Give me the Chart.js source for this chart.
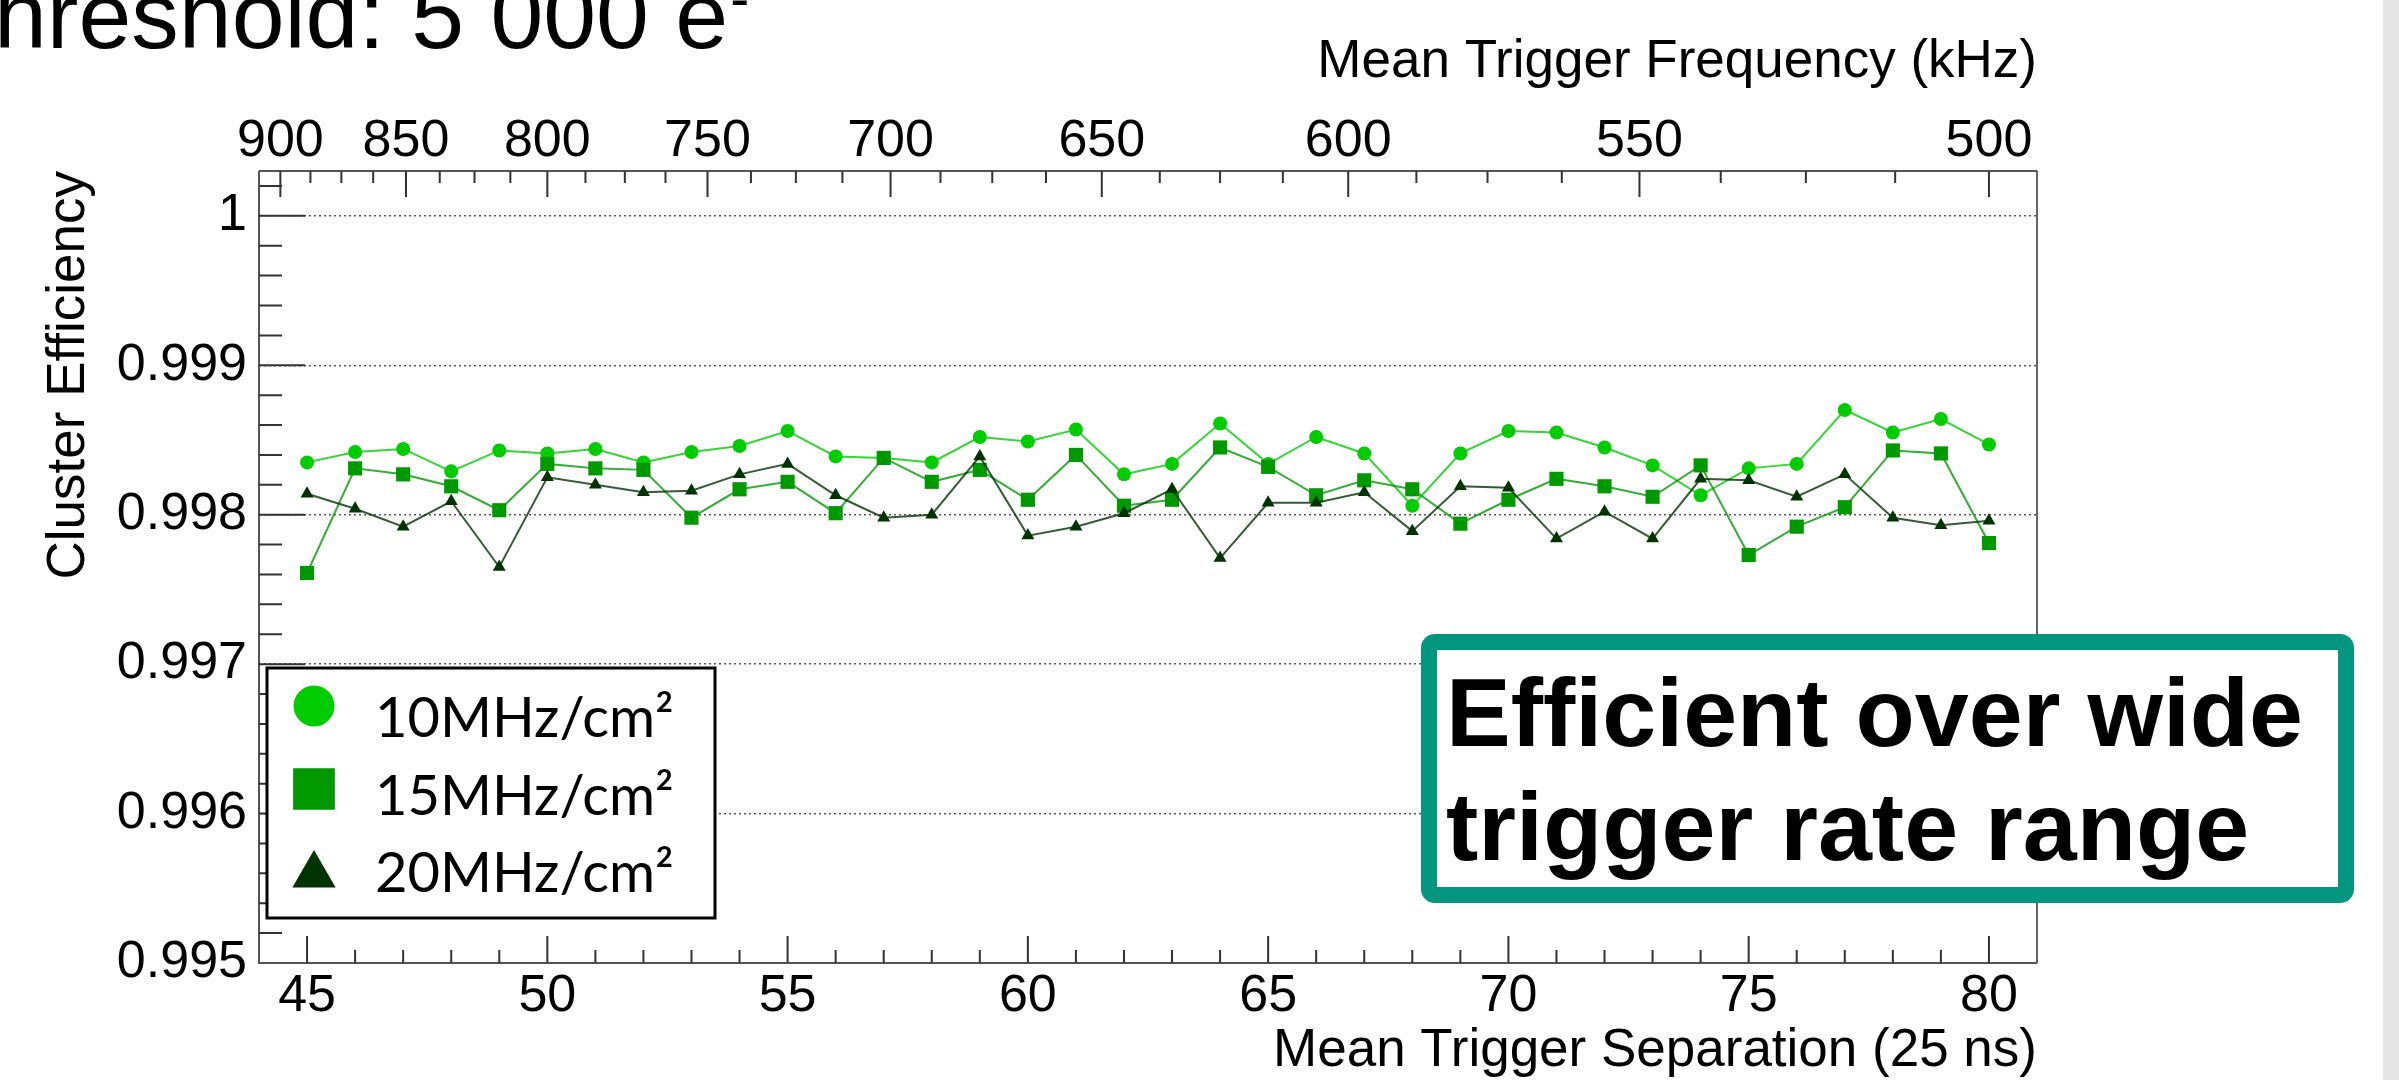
<!DOCTYPE html>
<html>
<head>
<meta charset="utf-8">
<title>Cluster efficiency vs trigger separation</title>
<script src="https://cdn.jsdelivr.net/npm/chart.js@4.4.0/dist/chart.umd.min.js"></script>
<style>
  html, body { margin: 0; padding: 0; background: #fff; }
  #wrap { width: 2399px; height: 1080px; position: relative; }
</style>
</head>
<body>
<div id="wrap"><canvas id="effChart" width="2399" height="1080"></canvas></div>
<script>
// mean trigger separation, in units of 25 ns
const separation = [45, 46, 47, 48, 49, 50, 51, 52, 53, 54, 55, 56, 57, 58, 59, 60, 61, 62,
  63, 64, 65, 66, 67, 68, 69, 70, 71, 72, 73, 74, 75, 76, 77, 78, 79, 80];

// cluster efficiency per hit rate
const eff10 = [0.99835, 0.99842, 0.99844, 0.99829, 0.99843, 0.99841, 0.99844, 0.99835, 0.99842,
  0.99846, 0.99856, 0.99839, 0.99838, 0.99835, 0.99852, 0.99849, 0.99857, 0.99827,
  0.99834, 0.99861, 0.99834, 0.99852, 0.99841, 0.99806, 0.99841, 0.99856, 0.99855,
  0.99845, 0.99833, 0.99813, 0.99831, 0.99834, 0.99870, 0.99855, 0.99864, 0.99847];
const eff15 = [0.99761, 0.99831, 0.99827, 0.99819, 0.99803, 0.99834, 0.99831, 0.99830, 0.99798,
  0.99817, 0.99822, 0.99801, 0.99838, 0.99822, 0.99830, 0.99810, 0.99840, 0.99806,
  0.99810, 0.99845, 0.99832, 0.99813, 0.99823, 0.99817, 0.99794, 0.99810, 0.99824,
  0.99819, 0.99812, 0.99833, 0.99773, 0.99792, 0.99805, 0.99843, 0.99841, 0.99781];
const eff20 = [0.99814, 0.99804, 0.99792, 0.99809, 0.99765, 0.99825, 0.99820, 0.99815, 0.99816,
  0.99827, 0.99834, 0.99813, 0.99798, 0.99800, 0.99839, 0.99786, 0.99792, 0.99801,
  0.99817, 0.99771, 0.99808, 0.99808, 0.99815, 0.99789, 0.99819, 0.99818, 0.99784,
  0.99802, 0.99784, 0.99824, 0.99823, 0.99812, 0.99827, 0.99798, 0.99793, 0.99796];

const seriesLabels = ["10MHz/cm\u00B2", "15MHz/cm\u00B2", "20MHz/cm\u00B2"];

// tick labels
const sepTicks = [45, 50, 55, 60, 65, 70, 75, 80];
const effTicks = [0.995, 0.996, 0.997, 0.998, 0.999, 1];
const effTickLabels = ["0.995", "0.996", "0.997", "0.998", "0.999", "1"];
const freqTicks = [900, 850, 800, 750, 700, 650, 600, 550, 500]; // kHz

// separation (x 25 ns) <-> frequency (kHz)
const toSep = (f) => 40000 / f;

const pts = (ys) => separation.map((s, i) => ({ x: s, y: ys[i] }));

Chart.defaults.font.family = "'Liberation Sans', Arial, sans-serif";
Chart.defaults.color = "#000";

const rootStyle = {
  id: "rootStyle",
  beforeDatasetsDraw(chart) {
    const { ctx, chartArea: a, scales } = chart;
    ctx.save();
    // frame
    ctx.strokeStyle = "#555";
    ctx.lineWidth = 2;
    ctx.beginPath();
    ctx.moveTo(a.left, a.top);
    ctx.lineTo(a.left, a.bottom);
    ctx.lineTo(a.right, a.bottom);
    ctx.moveTo(a.left, a.top);
    ctx.lineTo(a.right, a.top);
    ctx.stroke();
    ctx.strokeStyle = "#333";
    ctx.lineWidth = 1.5;
    ctx.beginPath();
    ctx.moveTo(a.right, a.top);
    ctx.lineTo(a.right, a.bottom);
    ctx.stroke();

    // inward ticks
    ctx.strokeStyle = "#333";
    ctx.lineWidth = 2;
    ctx.beginPath();
    for (let v = 45; v <= 80; v++) {
      const px = scales.x.getPixelForValue(v);
      const len = v % 5 === 0 ? 27 : 13;
      ctx.moveTo(px, a.bottom);
      ctx.lineTo(px, a.bottom - len);
    }
    for (let k = 1; k <= 26; k++) {
      const py = scales.y.getPixelForValue(0.995 + k * 0.0002);
      const len = k % 5 === 0 ? 46 : 23;
      ctx.moveTo(a.left, py);
      ctx.lineTo(a.left + len, py);
    }
    for (let f = 900; f >= 500; f -= 12.5) {
      const px = scales.x2.getPixelForValue(toSep(f));
      const len = f % 50 === 0 ? 26 : 12;
      ctx.moveTo(px, a.top);
      ctx.lineTo(px, a.top + len);
    }
    ctx.stroke();
    ctx.restore();
  },
  afterDraw(chart) {
    const { ctx } = chart;
    ctx.save();

    // legend box
    ctx.fillStyle = "#fff";
    ctx.fillRect(267, 668, 448, 250);
    ctx.strokeStyle = "#000";
    ctx.lineWidth = 3;
    ctx.strokeRect(267, 668, 448, 250);
    const legendY = [706, 789, 870];
    const legendR = [20.5, 29.5, 25];
    const legendOff = [0, 0, 5];
    const baseY = [737, 815, 892];
    chart.data.datasets.forEach((ds, i) => {
      ctx.fillStyle = ds.pointBackgroundColor;
      Chart.helpers.drawPoint(ctx, { pointStyle: ds.pointStyle, radius: legendR[i], rotation: 0, borderWidth: 0 },
        314, legendY[i] + legendOff[i]);
      ctx.fillStyle = "#000";
      ctx.font = "56px Lato, 'Open Sans', sans-serif";
      ctx.textAlign = "left";
      ctx.textBaseline = "alphabetic";
      ctx.fillText(ds.label, 375, baseY[i]);
    });

    // highlight box
    ctx.fillStyle = "#fff";
    ctx.strokeStyle = "#03967f";
    ctx.lineWidth = 16;
    ctx.beginPath();
    ctx.roundRect(1429, 642, 917, 253, 6);
    ctx.fill();
    ctx.stroke();
    ctx.fillStyle = "#000";
    ctx.font = "bold 97px 'Liberation Sans', Arial, sans-serif";
    ctx.fillText("Efficient over wide", 1446, 746);
    ctx.fillText("trigger rate range", 1446, 860);

    // slide title, cut at the top-left edge of the picture
    ctx.font = "95px 'Liberation Sans', Arial, sans-serif";
    const title = "Threshold: 5 000 e";
    const x0 = -ctx.measureText("T").width - 6;
    ctx.fillText(title, x0, 48);
    const tEnd = x0 + ctx.measureText(title).width;
    ctx.font = "57px 'Liberation Sans', Arial, sans-serif";
    ctx.fillText("-", tEnd + 2, 18);

    // slide edge
    ctx.fillStyle = "#e6e6e6";
    ctx.fillRect(2383, 0, 16, 1080);
    ctx.restore();
  }
};

new Chart(document.getElementById("effChart"), {
  type: "scatter",
  data: {
    datasets: [
      {
        label: seriesLabels[0],
        data: pts(eff10),
        showLine: true,
        borderColor: "rgba(0,204,0,0.8)",
        borderWidth: 2,
        pointStyle: "circle",
        pointRadius: 7,
        pointBackgroundColor: "#00cc00",
        pointBorderWidth: 0,
        order: 2
      },
      {
        label: seriesLabels[1],
        data: pts(eff15),
        showLine: true,
        borderColor: "rgba(0,153,0,0.8)",
        borderWidth: 2,
        pointStyle: "rect",
        pointRadius: 10,
        pointBackgroundColor: "#009900",
        pointBorderWidth: 0,
        order: 1
      },
      {
        label: seriesLabels[2],
        data: pts(eff20),
        showLine: true,
        borderColor: "rgba(0,51,0,0.8)",
        borderWidth: 2,
        pointStyle: "triangle",
        pointRadius: 7.5,
        pointBackgroundColor: "#003300",
        pointBorderWidth: 0,
        order: 0
      }
    ]
  },
  options: {
    responsive: false,
    animation: false,
    devicePixelRatio: 1,
    events: [],
    layout: { padding: { left: 0, right: 362, top: 0, bottom: 0 } },
    plugins: { legend: { display: false }, tooltip: { enabled: false } },
    scales: {
      x: {
        type: "linear",
        position: "bottom",
        min: 44,
        max: 81,
        afterBuildTicks: (axis) => { axis.ticks = sepTicks.map((v) => ({ value: v })); },
        afterFit: (axis) => { axis.height = 117; },
        grid: { display: false, drawTicks: false },
        border: { display: false },
        ticks: { autoSkip: false, maxRotation: 0, padding: 2, font: { size: 52 } },
        title: {
          display: true,
          text: "Mean Trigger Separation (25 ns)",
          align: "end",
          font: { size: 53 },
          padding: { top: 0, bottom: -3 }
        }
      },
      x2: {
        type: "linear",
        position: "top",
        min: 44,
        max: 81,
        afterBuildTicks: (axis) => { axis.ticks = freqTicks.map((f) => ({ value: toSep(f) })); },
        afterFit: (axis) => { axis.height = 171; },
        grid: { display: false, drawTicks: false },
        border: { display: false },
        ticks: {
          autoSkip: false,
          maxRotation: 0,
          padding: -2,
          font: { size: 52 },
          callback: (value, index) => String(freqTicks[index])
        },
        title: {
          display: true,
          text: "Mean Trigger Frequency (kHz)",
          align: "end",
          font: { size: 53 },
          padding: { top: 31, bottom: 0 }
        }
      },
      y: {
        type: "linear",
        position: "left",
        min: 0.995,
        max: 1.0003,
        afterBuildTicks: (axis) => { axis.ticks = effTicks.map((v) => ({ value: v })); },
        afterFit: (axis) => { axis.width = 259; },
        grid: { color: "rgba(0,0,0,0.65)", lineWidth: 1.5, drawTicks: false },
        border: { display: false, dash: [2, 3] },
        ticks: {
          autoSkip: false,
          padding: 12,
          font: { size: 52 },
          callback: (value, index) => effTickLabels[index]
        },
        title: {
          display: true,
          text: "Cluster Efficiency",
          align: "end",
          font: { size: 53 },
          padding: { top: 38, bottom: 0 }
        }
      }
    }
  },
  plugins: [rootStyle]
});
</script>
</body>
</html>
